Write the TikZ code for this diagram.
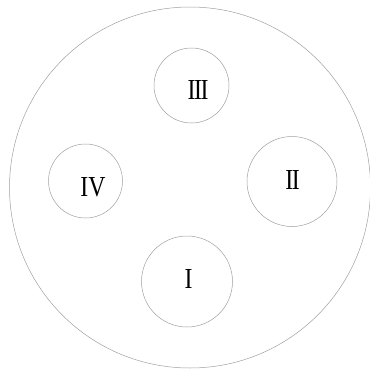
\documentclass[tikz,border=0pt]{standalone}
\usepackage{fontspec}
\setmainfont{Liberation Serif}
\usetikzlibrary{positioning}

\newcommand{\wellnum}[1]{\scalebox{0.82}[1]{#1}}

\begin{document}
\begin{tikzpicture}[x=1pt, y=-1pt,
    ring/.style={circle, draw=gray!75, line width=0.5pt, inner sep=0pt},
    numeral/.style={font=\fontsize{29}{29}\selectfont, inner sep=0pt}]
  \useasboundingbox (0,0) rectangle (370,370);

  % ---- Outer dish ----
  \node[ring, minimum size=361pt] (dish) at (190, 187.5) {};

  % ---- Four small wells ----
  \node[ring, minimum size=75pt] (w3) at (191.5, 85.5) {};
  \node[ring, minimum size=90pt] (w2) at (292, 181.5) {};
  \node[ring, minimum size=74pt] (w4) at (85.5, 181) {};
  \node[ring, minimum size=91pt] (w1) at (187, 281.5) {};

  % ---- Labels ----
  \node[numeral] (l3) at (198, 90.5) {\wellnum{I\kern-1.7ptI\kern-1.7ptI}};
  \node[numeral] (l2) at (292.5, 180) {\wellnum{I\kern-1.7ptI}};
  \node[numeral] (l4) at (93, 187) {\wellnum{IV}};
  \node[numeral] (l1) at (188.5, 279.5) {\wellnum{I}};
\end{tikzpicture}
\end{document}
